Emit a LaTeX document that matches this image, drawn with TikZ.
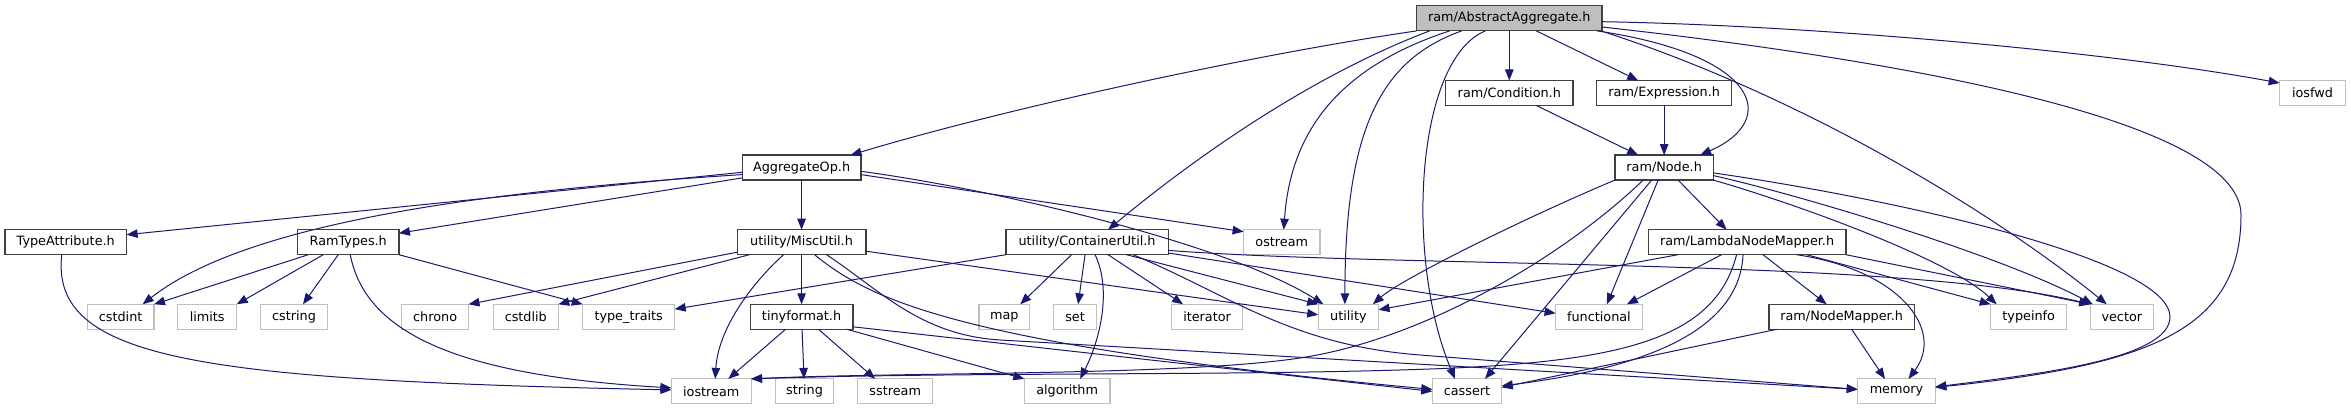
\documentclass[tikz,border=0pt]{standalone}
\usepackage{fontspec}
\setmainfont{DejaVu Sans}
\usepackage{tikz}
\usetikzlibrary{positioning,arrows.meta}

\begin{document}
\begin{tikzpicture}[
  x=1pt, y=-1pt,
  font=\fontsize{12.8}{15}\selectfont,
  box/.style={rectangle, line width=1.2pt, minimum height=25pt, inner xsep=3pt, inner ysep=2pt, outer sep=0pt, fill=white},
  proj/.style={box, draw=black!75},
  ext/.style={box, draw=black!25},
  root/.style={box, draw=black!75, fill=black!25},
  dep/.style={draw=edge, line width=1pt, -{Triangle[length=11pt,width=8.5pt]}},
  node distance=49.6pt,
]
\definecolor{edge}{HTML}{191970}
\useasboundingbox (0,0) rectangle (2351,411);

\node[root, minimum width=185.3pt] (aa) at (1509.3,18.4) {ram/AbstractAggregate.h};

\node[proj, below=of aa, minimum width=127.3pt] (cond) {ram/Condition.h};
\node[proj, right=23.7pt of cond, minimum width=135pt] (expr) {ram/Expression.h};
\node[ext, right=548pt of expr, minimum width=65.7pt] (iosfwd) {iosfwd};

\node[proj, below=of expr, minimum width=98.5pt] (ramnode) {ram/Node.h};
\node[proj, left=754pt of ramnode, minimum width=118.7pt] (aggop) {AggregateOp.h};

\node[proj, below=of aggop, minimum width=128.7pt] (misc) {utility/MiscUtil.h};
\node[proj, left=338.3pt of misc, minimum width=101.3pt] (ramtypes) {RamTypes.h};
\node[proj, left=171pt of ramtypes, minimum width=121.7pt] (typeattr) {TypeAttribute.h};
\node[proj, right=140pt of misc, minimum width=162.3pt] (cont) {utility/ContainerUtil.h};
\node[ext, right=75.4pt of cont, minimum width=76.3pt] (ostream) {ostream};
\node[proj, right=328.3pt of ostream, minimum width=197.7pt] (lnm) {ram/LambdaNodeMapper.h};

\node[proj, below=of misc, minimum width=102.7pt] (tiny) {tinyformat.h};
\node[ext, left=75.5pt of tiny, minimum width=92pt] (typetraits) {type\_traits};
\node[ext, left=24.4pt of typetraits, minimum width=65pt] (cstdlib) {cstdlib};
\node[ext, left=24.8pt of cstdlib, minimum width=66.7pt] (chrono) {chrono};
\node[ext, left=74.5pt of chrono, minimum width=66.6pt] (cstring) {cstring};
\node[ext, left=24pt of cstring, minimum width=59pt] (limits) {limits};
\node[ext, left=23.7pt of limits, minimum width=66.7pt] (cstdint) {cstdint};
\node[ext, right=126pt of tiny, minimum width=50.7pt] (map) {map};
\node[ext, right=24pt of map, minimum width=43pt] (set) {set};
\node[ext, right=75pt of set, minimum width=71pt] (iterator) {iterator};
\node[ext, right=75.6pt of iterator, minimum width=60.4pt] (utility) {utility};
\node[ext, right=177pt of utility, minimum width=86.6pt] (functional) {functional};
\node[proj, right=126.8pt of functional, minimum width=145.3pt] (nodemapper) {ram/NodeMapper.h};
\node[ext, right=76.4pt of nodemapper, minimum width=76pt] (typeinfo) {typeinfo};
\node[ext, right=23.6pt of typeinfo, minimum width=63pt] (vector) {vector};

\node[ext, below=of tiny, xshift=3pt, minimum width=58.3pt] (string) {string};
\node[ext, left=24.3pt of string, minimum width=79.7pt] (iostream) {iostream};
\node[ext, right=24pt of string, minimum width=75pt] (sstream) {sstream};
\node[ext, right=91.6pt of sstream, minimum width=85.7pt] (algorithm) {algorithm};
\node[ext, right=322.3pt of algorithm, minimum width=69.4pt] (cassert) {cassert};
\node[ext, right=356pt of cassert, minimum width=77.6pt] (memory) {memory};

\draw[dep] (aa.south west) .. controls (1250,55) and (1000,110) .. ([xshift=49pt]aggop.north);
\draw[dep] ([xshift=13pt]aa.south west) .. controls (1300,80) and (1180,170) .. ([xshift=21pt]cont.north);
\draw[dep] ([xshift=33pt]aa.south west) .. controls (1330,70) and (1290,140) .. ([xshift=2pt]ostream.north);
\draw[dep] ([xshift=45pt]aa.south west) .. controls (1380,60) and (1345,130) .. ([xshift=-3.5pt]utility.north);
\draw[dep] ([xshift=-24pt]aa.south) .. controls (1415,60) and (1405,260) .. ([xshift=-12pt]cassert.north);
\draw[dep] (aa) -- (cond);
\draw[dep] ([xshift=27pt]aa.south) -- ([xshift=-26pt]expr.north);
\draw[dep] ([xshift=-5pt]aa.south east) .. controls (1760,55) and (1780,120) .. ([xshift=36pt]ramnode.north);
\draw[dep] ([xshift=-1pt]aa.south east) .. controls (1800,95) and (1990,210) .. ([xshift=-15pt]vector.north);
\draw[dep] ([yshift=-8.6pt]aa.east) .. controls (1900,60) and (2241,120) .. (2241,215) .. controls (2241,330) and (2150,365) .. ([yshift=4pt]memory.east);
\draw[dep] ([yshift=-3.3pt]aa.east) .. controls (1800,25) and (2100,50) .. ([yshift=10pt]iosfwd.west);

\draw[dep] ([xshift=27pt]cond.south) -- ([xshift=-26pt]ramnode.north);
\draw[dep] (expr) -- (ramnode);

\draw[dep] ([yshift=-4.7pt]aggop.west) -- ([yshift=7.5pt]typeattr.east);
\draw[dep] ([yshift=-7pt]aggop.west) .. controls (500,190) and (250,220) .. ([xshift=22pt]cstdint.north);
\draw[dep] ([yshift=-10.3pt]aggop.west) -- ([yshift=9pt]ramtypes.east);
\draw[dep] (aggop) -- (misc);
\draw[dep] ([yshift=-7pt]aggop.east) -- ([yshift=10.5pt]ostream.west);
\draw[dep] ([yshift=-3.7pt]aggop.east) .. controls (1000,190) and (1230,245) .. ([xshift=-25pt]utility.north);

\draw[dep] ([xshift=-4pt]typeattr.south) .. controls (50,360) and (200,380) .. ([yshift=1.5pt]iostream.west);

\draw[dep] ([xshift=-40pt]ramtypes.south) -- (cstdint.north east);
\draw[dep] ([xshift=-25pt]ramtypes.south) -- (limits.north east);
\draw[dep] ([xshift=-10pt]ramtypes.south) -- ([xshift=9pt]cstring.north);
\draw[dep] (ramtypes.south east) -- (typetraits.north west);
\draw[dep] ([xshift=2pt]ramtypes.south) .. controls (365,330) and (450,375) .. ([yshift=3.5pt]iostream.west);

\draw[dep] ([yshift=-10pt]misc.west) -- (chrono.north east);
\draw[dep] ([xshift=-52pt]misc.south) -- (cstdlib.north east);
\draw[dep] ([xshift=-18pt]misc.south) .. controls (750,285) and (718,330) .. ([xshift=4pt]iostream.north);
\draw[dep] (misc) -- (tiny);
\draw[dep] ([xshift=13pt]misc.south) .. controls (870,300) and (960,345) .. ([yshift=2pt]cassert.west);
\draw[dep] ([xshift=25pt]misc.south) .. controls (880,290) and (920,335) .. (1000,340) -- ([yshift=2pt]memory.west);
\draw[dep] ([yshift=-9pt]misc.east) -- ([yshift=2pt]utility.west);

\draw[dep] ([xshift=-16pt]tiny.south) -- ([xshift=17pt]iostream.north);
\draw[dep] (tiny) -- (string);
\draw[dep] ([xshift=17pt]tiny.south) -- ([xshift=-20pt]sstream.north);
\draw[dep] ([xshift=-6pt]tiny.south east) -- (algorithm.north west);
\draw[dep] ([yshift=-10pt]tiny.east) -- (cassert.west);

\draw[dep] (cont.south west) -- ([yshift=7.7pt]typetraits.east);
\draw[dep] ([xshift=-15.5pt]cont.south) -- ([xshift=16pt]map.north);
\draw[dep] ([xshift=-2pt]cont.south) -- ([xshift=3pt]set.north);
\draw[dep] ([xshift=8pt]cont.south) .. controls (1112,290) and (1100,340) .. ([xshift=13pt]algorithm.north);
\draw[dep] ([xshift=21pt]cont.south) -- ([xshift=-24pt]iterator.north);
\draw[dep] ([xshift=39.5pt]cont.south) -- (utility.north west);
\draw[dep] ([xshift=46pt]cont.south) .. controls (1230,295) and (1290,345) .. (1420,355) -- ([yshift=2pt]memory.west);
\draw[dep] ([yshift=-8.2pt]cont.east) .. controls (1400,268) and (1900,258) .. (vector.north west);
\draw[dep] ([yshift=-10.8pt]cont.east) -- ([yshift=3.5pt]functional.west);

\draw[dep] (ramnode.south west) .. controls (1520,220) and (1400,280) .. ([xshift=-5.7pt]utility.north east);
\draw[dep] ([xshift=-21pt]ramnode.south) .. controls (1560,260) and (1420,340) .. (1300,358) .. controls (1180,376) and (900,372) .. (iostream.north east);
\draw[dep] ([xshift=-12.5pt]ramnode.south) -- ([xshift=18pt]cassert.north);
\draw[dep] ([xshift=-6pt]ramnode.south) -- ([xshift=8pt]functional.north);
\draw[dep] ([xshift=14pt]ramnode.south) -- ([xshift=-20.5pt]lnm.north);
\draw[dep] ([yshift=-5.3pt]ramnode.east) .. controls (1900,200) and (2170,260) .. (2170,317) .. controls (2170,360) and (2030,375) .. ([yshift=4.5pt]memory.east);
\draw[dep] ([yshift=-8pt]ramnode.east) .. controls (1800,195) and (2000,255) .. ([xshift=-29pt]vector.north);
\draw[dep] (ramnode.south east) .. controls (1800,205) and (1950,260) .. ([xshift=-32pt]typeinfo.north);

\draw[dep] ([xshift=-69pt]lnm.south) -- ([yshift=7pt]utility.east);
\draw[dep] ([xshift=-25.5pt]lnm.south) -- ([xshift=28pt]functional.north);
\draw[dep] ([xshift=-10.5pt]lnm.south) .. controls (1715,340) and (1620,362) .. (1430,369) .. controls (1240,376) and (950,372) .. (iostream.north east);
\draw[dep] ([xshift=-4pt]lnm.south) .. controls (1740,320) and (1670,365) .. ([yshift=5.5pt]cassert.east);
\draw[dep] ([xshift=16pt]lnm.south) -- ([xshift=-15pt]nodemapper.north);
\draw[dep] ([xshift=49.5pt]lnm.south) .. controls (1900,270) and (1945,330) .. ([xshift=12pt]memory.north);
\draw[dep] ([xshift=59.5pt]lnm.south) -- (typeinfo.north west);
\draw[dep] (lnm.south east) -- (vector.north west);

\draw[dep] ([xshift=-65pt]nodemapper.south) -- ([yshift=4pt]cassert.east);
\draw[dep] ([xshift=10pt]nodemapper.south) -- ([xshift=-11.5pt]memory.north);
\end{tikzpicture}
\end{document}
